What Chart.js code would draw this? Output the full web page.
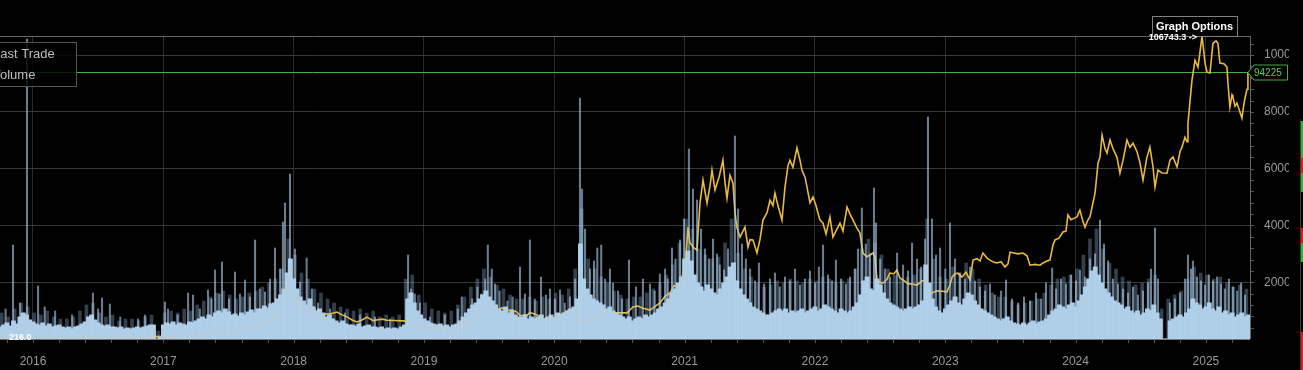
<!DOCTYPE html>
<html><head><meta charset="utf-8">
<script src="https://cdn.jsdelivr.net/npm/chart.js@4.4.1/dist/chart.umd.min.js"></script>
<style>html,body{margin:0;padding:0;background:#000;overflow:hidden}#wrap{width:1303px;height:370px}canvas{display:block}</style>
</head><body><div id="wrap"><canvas id="c" width="1303" height="370"></canvas></div>
<script>
const FONT = "'Liberation Sans', Arial, Helvetica, sans-serif";

// ---- data ----
const priceDates = [2015.75,2015.80,2015.85,2015.90,2015.95,2016.00,2016.05,2016.10,2016.20,2016.30,2016.40,2016.45,2016.50,2016.60,2016.70,2016.80,2016.90,2016.99,2017.02,2017.05,2017.10,2017.15,2017.20,2017.25,2017.30,2017.35,2017.40,2017.45,2017.50,2017.53,2017.57,2017.60,2017.65,2017.70,2017.75,2017.78,2017.82,2017.85,2017.88,2017.90,2017.92,2017.94,2017.955,2017.97,2017.99,2018.01,2018.03,
2018.049,2018.103,2018.149,2018.202,2018.225,2018.279,2018.333,2018.371,2018.41,2018.448,2018.486,2018.525,2018.563,2018.586,2018.609,2018.647,2018.678,2018.716,2018.778,2018.87,2018.885,2018.916,2018.97,2019.008,2019.07,2019.123,2019.184,2019.238,2019.277,2019.323,2019.353,2019.384,2019.407,2019.437,2019.468,2019.491,2019.506,2019.53,2019.56,2019.598,2019.637,2019.675,2019.714,2019.737,2019.79,2019.813,2019.836,2019.867,2019.913,2019.952,2019.99,
2020.021,2020.044,2020.082,2020.105,2020.143,2020.174,2020.197,2020.228,2020.274,2020.312,2020.35,2020.39,2020.427,2020.466,2020.504,2020.558,2020.604,2020.642,2020.68,2020.734,2020.772,2020.81,2020.85,2020.888,2020.918,2020.941,2020.965,2020.988,2021.01,2021.026,2021.04,2021.064,2021.095,2021.118,2021.141,2021.172,2021.195,2021.21,2021.233,2021.264,2021.294,2021.31,2021.325,2021.348,2021.371,2021.386,2021.4,2021.425,2021.463,2021.486,2021.502,2021.524,2021.555,2021.578,2021.601,2021.632,2021.655,2021.678,2021.693,2021.716,2021.747,2021.77,2021.793,2021.808,2021.831,2021.862,2021.885,2021.9,2021.924,2021.939,2021.962,2021.985,
2022.008,2022.023,2022.038,2022.062,2022.085,2022.115,2022.138,2022.161,2022.192,2022.215,2022.246,2022.269,2022.292,2022.323,2022.345,2022.368,2022.399,2022.422,2022.445,2022.46,2022.476,2022.499,2022.522,2022.552,2022.575,2022.606,2022.629,2022.652,2022.675,2022.714,2022.752,2022.783,2022.821,2022.844,2022.86,2022.898,2022.936,2022.975,
2023.013,2023.036,2023.052,2023.075,2023.097,2023.128,2023.159,2023.19,2023.213,2023.243,2023.266,2023.289,2023.32,2023.343,2023.374,2023.397,2023.428,2023.458,2023.481,2023.497,2023.527,2023.558,2023.596,2023.627,2023.65,2023.688,2023.727,2023.75,2023.78,2023.803,2023.826,2023.842,2023.872,2023.903,2023.926,2023.941,2023.964,2023.987,
2024.01,2024.033,2024.056,2024.072,2024.095,2024.11,2024.133,2024.149,2024.172,2024.187,2024.203,2024.226,2024.241,2024.264,2024.287,2024.317,2024.34,2024.364,2024.394,2024.417,2024.44,2024.471,2024.494,2024.517,2024.547,2024.57,2024.594,2024.609,2024.632,2024.663,2024.701,2024.724,2024.747,2024.778,2024.801,2024.816,2024.839,2024.855,2024.862,2024.878,2024.893,2024.916,2024.939,2024.954,2024.97,2024.993,
2025.008,2025.031,2025.054,2025.077,2025.092,2025.107,2025.138,2025.161,2025.169,2025.184,2025.2,2025.207,2025.223,2025.238,2025.261,2025.276,2025.292,2025.3,2025.315,2025.322,2025.338];
const priceValues = [240,290,330,420,440,430,380,400,420,450,570,700,660,590,610,720,760,960,1000,900,1000,1150,1100,1200,1350,1800,2400,2700,2500,2300,2800,4100,4700,3700,4300,5800,6100,7300,8000,9800,11500,16500,19400,16000,14000,16200,12500,
11300,10200,11300,7700,8900,8800,9500,8500,7800,6700,6000,6700,7700,7100,6500,6800,7000,6600,6500,6300,4600,3800,3600,3800,3500,3600,3900,4100,5000,5300,5500,7500,7700,8200,10200,12000,12500,10500,10000,11000,10000,10300,9500,8200,8400,9300,9000,8500,7100,7300,7200,
8000,8500,9300,10000,9800,9000,5500,6200,6700,7500,8800,9500,9500,9300,9200,9200,11300,11600,10800,10200,11400,12700,15000,16200,18800,18300,19300,23200,29000,39400,34000,32400,31300,47900,56000,47900,54000,59500,52500,57000,63000,55000,49600,57700,54900,45000,39400,35900,39400,32400,35000,34900,30300,35000,41900,44500,48900,47000,51400,47000,41900,53500,61000,63000,60500,67300,63000,59500,57000,53500,48000,50000,
47000,44400,42000,40800,37000,43000,35900,38000,40800,38000,46500,44000,41900,39000,37300,30300,29000,29600,30300,29000,20800,20000,19700,21000,23200,23000,24300,21500,20800,19500,19300,19000,20500,20600,16500,16200,17000,16800,
16600,19000,21800,23000,23200,21800,23500,20800,27800,28300,27500,30300,28500,27800,27000,26800,27200,25400,26500,30600,30300,30000,30300,29300,26000,26300,26000,26800,27500,27800,33000,34900,35500,37700,38000,43700,42000,42500,
43000,45400,41500,39400,42000,43000,48000,51400,62000,64000,71800,67000,65500,70100,67000,64100,58400,63000,70100,67500,69000,66000,62000,56000,64000,67600,60600,53500,59500,58500,58400,63000,64100,60600,66000,67600,71100,69500,76000,84000,91200,98200,95800,101000,106743.3,97200,
94000,93700,104200,105000,104200,97200,97000,95800,90100,81700,86000,85200,82000,83100,80000,77800,83000,84900,88000,93700,94225];

// volume, one value per 0.025 year starting 2015.75 (arbitrary units)
const volumeStart = 2015.75, volumeStep = 0.025;
const volumeValues = [
12,14,16,13, 18,15,22,26, 24,19,17,15, 14,16,13,15, 12,13,14,12, 11,12,10,12, 13,15,17,22, 24,19,16,14,
13,14,12,12, 11,12,10,11, 10,11,12,11, 12,13,14,14, 0,2,14,16, 15,17,14,16, 15,14,17,16, 18,20,22,20,
24,22,26,28, 26,30,27,24, 25,23,26,24, 27,29,26,30, 30,33,31,35, 36,40,44,50, 66,80,60,50, 42,38,34,40,
32,28,30,26, 22,24,20,18, 16,18,15,14, 14,13,15,12, 13,14,12,12, 11,12,10,11, 10,11,10,12, 14,40,46,36,
28,24,20,18, 16,15,14,15, 13,14,12,14, 15,18,22,26, 30,34,36,40, 44,48,42,38, 34,30,28,32, 26,28,24,22,
22,24,20,22, 20,22,24,20, 22,24,21,26, 24,26,28,30, 32,40,95,60, 50,44,40,38, 36,34,30,32, 28,26,24,22,
20,22,18,20, 22,20,24,22, 24,26,30,32, 36,40,46,50, 56,62,80,88, 78,64,56,52, 48,54,50,46, 44,50,56,62,
72,76,58,50, 44,40,36,32, 30,28,26,24, 24,26,28,30, 28,30,26,28, 26,28,30,26, 28,30,32,28, 30,34,32,30,
28,26,30,28, 26,28,32,36, 44,58,62,50, 48,60,54,46, 40,36,34,32, 30,28,30,32, 30,32,34,38, 74,56,40,32,
28,26,30,34, 38,42,36,34, 40,46,44,38, 34,30,28,26, 24,22,20,18, 20,22,18,16, 15,14,16,14, 16,18,15,17,
18,20,24,28, 30,34,32,30, 34,36,32,38, 44,52,60,68, 72,64,56,50, 46,42,38,36, 34,30,32,28, 26,28,24,26,
30,28,34,26, 20,0,0,18, 20,22,24,22, 26,30,40,36, 34,30,32,36, 30,28,32,26, 28,24,26,22, 24,26,22,24];

// upper fringe of the daily volume, one value per 0.05 year starting 2015.75
const fringeStart = 2015.76, fringeStep = 0.05;
const fringeValues = [
26,22, 30,36, 32,26, 24,28, 22,20, 20,22, 28,34, 36,26, 22,24, 18,20, 20,18, 22,24, 8,26, 28,26, 30,28, 34,38,
42,46, 48,44, 40,42, 46,48, 52,56, 60,70, 100,84, 66,60, 50,46, 40,36, 32,30, 28,30, 26,28, 22,24, 22,24, 60,64,
44,36, 30,28, 26,28, 34,42, 52,60, 70,62, 54,50, 44,40, 40,42, 38,42, 40,46, 44,50, 70,130, 80,70, 62,56, 48,44,
40,42, 42,46, 50,56, 64,74, 96,120, 110,90, 84,80, 82,96, 120,86, 70,62, 56,52, 54,58, 56,60, 58,56, 60,58, 62,60,
56,58, 60,70, 90,100, 96,84, 70,64, 60,62, 64,70, 120,80, 62,60, 72,66, 76,70, 60,54, 46,42, 42,38, 34,36, 38,40,
46,54, 60,62, 64,70, 84,100, 110,90, 76,70, 62,58, 54,56, 60,64, 30,40, 44,48, 60,72, 66,64, 60,62, 56,52, 54,50];

// individual high-volume days
const spikeDates = [2015.79,2015.847,2015.9,2015.954,2016.039,2016.09,2016.17,2016.30,2016.46,2016.50,2016.53,2016.59,2016.67,2016.806,2016.86,
2017.013,2017.036,2017.11,2017.19,2017.228,2017.28,2017.343,2017.37,2017.397,2017.43,2017.45,2017.504,2017.55,2017.588,2017.627,2017.665,2017.704,2017.74,2017.78,2017.819,2017.857,2017.895,2017.918,2017.934,2017.972,
2018.01,2018.049,2018.10,2018.14,2018.187,2018.28,2018.394,2018.51,2018.624,2018.74,2018.878,2018.90,2018.93,2018.97,
2019.046,2019.16,2019.26,2019.29,2019.37,2019.41,2019.44,2019.47,2019.49,2019.52,2019.545,2019.58,2019.64,2019.68,2019.737,2019.775,2019.813,2019.85,2019.898,2019.936,2019.967,
2020.005,2020.044,2020.08,2020.12,2020.16,2020.197,2020.213,2020.236,2020.274,2020.305,2020.33,2020.36,2020.39,2020.427,2020.45,2020.489,2020.52,2020.573,2020.627,2020.68,2020.734,2020.77,2020.81,2020.85,2020.87,2020.903,2020.93,2020.965,2020.995,
2021.033,2021.064,2021.095,2021.126,2021.156,2021.187,2021.218,2021.248,2021.27,2021.302,2021.333,2021.386,2021.41,2021.44,2021.47,2021.502,2021.54,2021.57,2021.61,2021.655,2021.693,2021.73,2021.77,2021.808,2021.847,2021.885,2021.924,2021.962,
2022.0,2022.03,2022.062,2022.1,2022.131,2022.161,2022.2,2022.238,2022.269,2022.307,2022.33,2022.36,2022.39,2022.422,2022.453,2022.468,2022.5,2022.537,2022.576,2022.63,2022.676,2022.714,2022.745,2022.783,2022.814,2022.845,2022.867,2022.898,2022.929,2022.96,
2023.0,2023.036,2023.075,2023.113,2023.15,2023.19,2023.228,2023.266,2023.305,2023.343,2023.38,2023.428,2023.466,2023.512,2023.558,2023.604,2023.65,2023.696,2023.735,2023.773,2023.82,2023.85,2023.888,2023.926,2023.965,
2024.003,2024.033,2024.072,2024.11,2024.149,2024.187,2024.218,2024.249,2024.287,2024.325,2024.364,2024.402,2024.44,2024.478,2024.517,2024.555,2024.578,2024.609,2024.632,2024.724,2024.762,2024.8,2024.839,2024.862,2024.885,2024.9,2024.931,2024.962,2024.993,
2025.023,2025.054,2025.085,2025.115,2025.145,2025.177,2025.207,2025.24,2025.27,2025.3];
const spikeVolumes = [30,94,36,300,53,32,28,24,46,30,41,35,22,20,24,
37,30,24,46,44,30,49,40,69,45,77,40,67,45,59,42,99,50,47,60,91,70,117,136,165,
90,57,81,50,36,30,26,24,22,20,84,50,45,36,
22,24,30,42,40,52,45,60,94,70,55,48,38,42,72,45,99,40,62,44,50,
40,49,36,42,60,241,150,110,70,78,91,94,60,70,56,48,40,79,52,60,55,48,65,70,60,91,80,99,120,
190,150,139,110,90,80,100,85,74,69,90,203,130,95,80,70,58,76,55,60,66,52,62,58,70,54,60,68,
56,72,94,64,58,79,60,55,62,70,90,131,95,85,151,116,80,70,62,86,74,68,96,80,72,100,222,120,84,91,
70,116,80,66,60,72,58,52,48,55,44,48,59,40,36,42,38,46,40,56,71,50,60,55,64,
58,69,62,80,85,119,95,78,60,55,50,46,52,44,48,56,70,111,60,36,40,46,60,84,70,78,62,58,54,
64,58,62,55,50,60,52,48,56,44];

const yTicks = [0,20000,40000,60000,80000,100000];
const yearTicks = [2016,2017,2018,2019,2020,2021,2022,2023,2024,2025];
const legendLabels = ['Last Trade','Volume'];
const lastPrice = 94225;
const minPriceLabel = '216.0';
const maxPrice = Math.max(...priceValues);
const xMin = 2015.747, xMax = 2025.338;

// ---- drawing helpers ----
const decor = {
  id:'decor',
  beforeDraw(chart){
    const c = chart.ctx; c.save(); c.fillStyle='#000'; c.fillRect(0,0,chart.width,chart.height); c.restore();
  },
  beforeDatasetsDraw(chart){
    const c = chart.ctx, a = chart.chartArea, y = chart.scales.y;
    const py = Math.round(y.getPixelForValue(lastPrice)) + 0.5;
    c.save(); c.strokeStyle='#42b042'; c.lineWidth=1;
    c.beginPath(); c.moveTo(a.left,py); c.lineTo(a.right,py); c.stroke(); c.restore();
  },
  afterDatasetsDraw(chart){
    const c = chart.ctx, a = chart.chartArea, x = chart.scales.x, y = chart.scales.y;
    c.save();
    c.lineWidth = 1;
    c.strokeStyle = '#666';
    c.beginPath(); c.moveTo(a.left, Math.round(a.top)+0.5); c.lineTo(a.right, Math.round(a.top)+0.5); c.stroke();
    c.beginPath(); c.moveTo(Math.round(a.right)+0.5, a.top); c.lineTo(Math.round(a.right)+0.5, a.bottom); c.stroke();
    c.strokeStyle = '#7a7a7a';
    c.beginPath(); c.moveTo(a.left, Math.round(a.bottom)+0.5); c.lineTo(a.right, Math.round(a.bottom)+0.5); c.stroke();
    c.strokeStyle = '#555';
    for (let k = 0; k < 60; k++) {
      const v = 2015.8 + k*0.2; if (v > xMax) break;
      const px = Math.round(x.getPixelForValue(v)) + 0.5;
      c.beginPath(); c.moveTo(px, a.bottom+1); c.lineTo(px, a.bottom+4); c.stroke();
    }
    for (let v = 4000; v < maxPrice; v += 4000) {
      const py = Math.round(y.getPixelForValue(v)) + 0.5;
      c.beginPath(); c.moveTo(a.right+1, py); c.lineTo(a.right+4, py); c.stroke();
    }
    c.restore();
  },
  afterDraw(chart){
    const c = chart.ctx, a = chart.chartArea, x = chart.scales.x, y = chart.scales.y;
    c.save();
    c.fillStyle = 'rgba(0,0,0,0.82)'; c.fillRect(-10, 42, 87, 44);
    c.strokeStyle = '#555'; c.lineWidth = 1; c.strokeRect(-10.5, 42.5, 87, 44);
    c.fillStyle = '#bdbdbd'; c.font = '13px ' + FONT; c.textBaseline = 'alphabetic'; c.textAlign='left';
    c.fillText(legendLabels[0], -7, 58);
    c.fillText(legendLabels[1], -8, 79);
    c.fillStyle = '#fff'; c.font = 'bold 9px ' + FONT; c.textBaseline = 'middle';
    c.fillText(minPriceLabel, 9, y.getPixelForValue(216) - 1);
    // Graph Options box
    c.fillStyle = '#000'; c.fillRect(1152, 16, 85, 20);
    c.strokeStyle = '#808080'; c.strokeRect(1152.5, 16.5, 85, 20);
    c.fillStyle = '#fff'; c.font = 'bold 11px ' + FONT; c.textAlign = 'center'; c.textBaseline='middle';
    c.fillText('Graph Options', 1194.5, 26.5);
    // max label (drawn over the box edge)
    const iMax = priceValues.indexOf(maxPrice);
    const pxMax = x.getPixelForValue(priceDates[iMax]);
    c.font = 'bold 9px ' + FONT; c.textAlign = 'right'; c.fillStyle = '#fff';
    c.fillText(maxPrice.toFixed(1) + ' ->', pxMax - 5, y.getPixelForValue(maxPrice) + 2);
    // clip far right
    c.fillStyle = '#000'; c.fillRect(1289, 0, 14, 370);
    const py = Math.round(y.getPixelForValue(lastPrice)) + 0.5;
    c.beginPath();
    c.moveTo(a.right - 2, py); c.lineTo(a.right + 4, py - 7.5); c.lineTo(1287.5, py - 7.5);
    c.lineTo(1287.5, py + 7.5); c.lineTo(a.right + 4, py + 7.5); c.closePath();
    c.fillStyle = '#000'; c.fill(); c.strokeStyle = '#43b043'; c.stroke();
    c.fillStyle = '#55cc55'; c.font = '10px ' + FONT; c.textAlign = 'left';
    c.fillText(String(lastPrice), 1254, py + 0.5);
    c.strokeStyle = '#3a3a3a'; c.beginPath(); c.moveTo(1300.5, 119); c.lineTo(1300.5, 370); c.stroke();
    const segs = [[121,158,'#2fb52f'],[158,173,'#d02020'],[173,192,'#2fb52f'],[228,243,'#d02020'],[243,262,'#2fb52f'],[332,370,'#d02020']];
    segs.forEach(s => { c.fillStyle = s[2]; c.fillRect(1301, s[0], 2, s[1]-s[0]); });
    c.restore();
  }
};

const volumePoints = volumeValues.map((v,i)=>({x: volumeStart + i*volumeStep, y: v}));

new Chart(document.getElementById('c'), {
  type: 'bar',
  data: {
    datasets: [
      { type:'bar', label:'Volume fringe', data: fringeValues.map((v,i)=>({x: fringeStart + i*fringeStep, y: v})),
        backgroundColor:'rgba(120,150,180,0.42)', borderWidth:0, barThickness:3, grouped:false, yAxisID:'yv', order:5 },
      { type:'bar', label:legendLabels[1], data: volumePoints,
        backgroundColor:'#a6c6e0', borderWidth:0, barThickness:4, grouped:false, yAxisID:'yv', order:4 },
      { type:'line', label:legendLabels[0], data: priceDates.map((d,i)=>({x:d, y:priceValues[i]})),
        borderColor:'#e9ba3f', borderWidth:1.6, pointRadius:0, tension:0, yAxisID:'y', order:3 },
      { type:'bar', label:legendLabels[1] + ' (overlay)', data: volumePoints,
        backgroundColor:'rgba(178,208,232,0.78)', borderWidth:0, barThickness:4, grouped:false, yAxisID:'yv', order:2 },
      { type:'bar', label:'Volume spikes', data: spikeDates.map((d,i)=>({x:d, y:spikeVolumes[i]})),
        backgroundColor:'rgba(175,208,236,0.6)', borderWidth:0, barThickness:1.4, grouped:false, yAxisID:'yv', order:1 }
    ]
  },
  options: {
    responsive:false, animation:false, devicePixelRatio:1, events:[],
    layout:{ padding:{ top:36, left:0, right:0, bottom:0 } },
    plugins:{ legend:{display:false}, tooltip:{enabled:false} },
    scales:{
      x:{ type:'linear', position:'bottom', min:xMin, max:xMax, bounds:'data', offset:false,
          afterBuildTicks: s => { s.ticks = yearTicks.map(v=>({value:v})); },
          afterFit: s => { s.height = 31; },
          ticks:{ color:'#9a9a9a', font:{size:12, family:FONT}, padding:15, maxRotation:0, autoSkip:false, callback: v => String(v) },
          grid:{ color:'#2c2c2c', drawTicks:false, offset:false }, border:{display:false} },
      y:{ type:'linear', position:'right', min:0, max:maxPrice,
          afterBuildTicks: s => { s.ticks = yTicks.map(v=>({value:v})); },
          afterFit: s => { s.width = 53; },
          ticks:{ color:'#9a9a9a', font:{size:12, family:FONT}, padding:14, callback: v => v === 0 ? '' : String(v) },
          grid:{ color:'#383838', drawTicks:false }, border:{display:false} },
      yv:{ type:'linear', display:false, min:0, max:303 }
    }
  },
  plugins:[decor]
});
</script></body></html>
